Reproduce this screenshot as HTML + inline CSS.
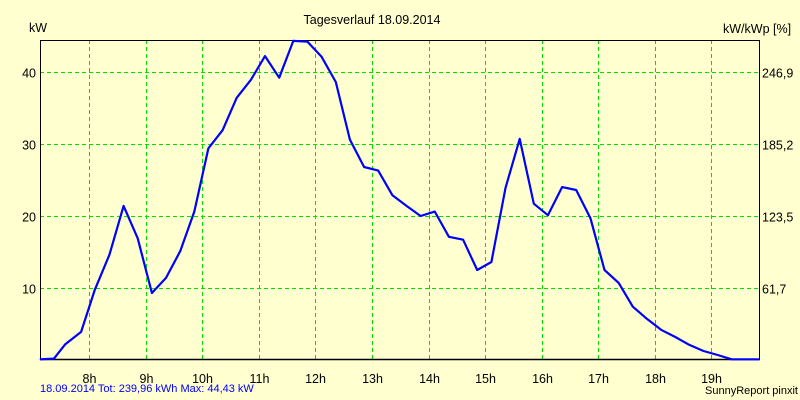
<!DOCTYPE html>
<html><head><meta charset="utf-8"><style>
body{margin:0;background:#ffffd0;}
svg{display:block;font-family:"Liberation Sans",Arial,sans-serif;}
</style></head><body>
<svg id="chart" width="800" height="400" viewBox="0 0 800 400">
<rect x="0" y="0" width="800" height="400" fill="#ffffd0"/>
<text x="372" y="24" font-size="12.5" text-anchor="middle" fill="#000">Tagesverlauf 18.09.2014</text>
<text x="29" y="32" font-size="12.5" fill="#000">kW</text>
<text x="723" y="33" font-size="12.5" fill="#000">kW/kWp [%]</text>
<g id="grid"></g>
<g id="axes"></g>
<g id="series"></g>
<text x="40" y="392" font-size="11" fill="#0000ff">18.09.2014 Tot: 239,96 kWh Max: 44,43 kW</text>
<text x="798" y="394" font-size="11" text-anchor="end" fill="#000">SunnyReport pinxit</text>
</svg>
<script>
const hourTicks=[8,9,10,11,12,13,14,15,16,17,18,19];
const leftTicks=[10,20,30,40];
const rightTickLabels=["61,7","123,5","185,2","246,9"];
const times=[7.13,7.38,7.58,7.86,8.1,8.36,8.61,8.86,9.11,9.36,9.61,9.86,10.11,10.36,10.61,10.86,11.11,11.36,11.61,11.86,12.11,12.36,12.61,12.86,13.11,13.36,13.61,13.86,14.11,14.36,14.61,14.86,15.11,15.36,15.61,15.86,16.11,16.36,16.61,16.86,17.11,17.36,17.61,17.86,18.11,18.36,18.61,18.86,19.11,19.36,19.61,19.84];
const power=[0.1,0.2,2.2,3.9,9.7,14.6,21.4,16.9,9.3,11.4,15.1,20.6,29.4,31.9,36.4,38.9,42.2,39.2,44.3,44.2,42.1,38.6,30.6,26.8,26.3,22.9,21.4,20.0,20.6,17.1,16.7,12.5,13.6,23.9,30.7,21.7,20.1,24.0,23.6,19.7,12.5,10.7,7.4,5.7,4.2,3.2,2.1,1.25,0.7,0.1,0.1,0.1];
const L=40,R=759,T=40,B=360;
const tMin=7.133,tMax=19.84,yMax=44.43;
function xs(t){return L+(t-tMin)/(tMax-tMin)*(R-L);}
function ys(v){return B-v/yMax*(B-T);}
const NS="http://www.w3.org/2000/svg";
function mk(tag,attrs,parent){const e=document.createElementNS(NS,tag);for(const k in attrs)e.setAttribute(k,attrs[k]);parent.appendChild(e);return e;}
const grid=document.getElementById('grid'),axes=document.getElementById('axes'),series=document.getElementById('series');
hourTicks.forEach(h=>{
 const x=Math.round(xs(h))+0.5;
 const g=mk('line',{x1:x,x2:x,y1:T,y2:B,stroke:'#00e000','stroke-width':1,'stroke-dasharray':'4,3'},grid);
 
 
 const t=mk('text',{x:x,y:383,'font-size':12.5,'text-anchor':'middle',fill:'#000'},axes);
 t.textContent=h+'h';
 
 
});
leftTicks.forEach((v,i)=>{
 const y=Math.round(ys(v))+0.5;
 const g=mk('line',{x1:L,x2:R,y1:y,y2:y,stroke:'#00e000','stroke-width':1,'stroke-dasharray':'4,3'},grid);
 
 
 const t=mk('text',{x:36,y:y+5,'font-size':12.5,'text-anchor':'end',fill:'#000'},axes);
 t.textContent=v;
 
 
 const r=mk('text',{x:762,y:y+5,'font-size':12.5,fill:'#000'},axes);
 r.textContent=rightTickLabels[i];
 
 
});
const frame=mk('rect',{x:L+0.5,y:T+0.5,width:R-L,height:B-T-1,fill:'none',stroke:'#000','stroke-width':1},axes);


const bl=mk('line',{x1:L,x2:R+1,y1:B-0.5,y2:B-0.5,stroke:'#000','stroke-width':1.5},axes);


const pts=times.map((t,i)=>xs(t).toFixed(1)+','+ys(power[i]).toFixed(1)).join(' ');
const line=mk('polyline',{points:pts,fill:'none',stroke:'#0000ff','stroke-width':2.2,'stroke-linejoin':'round'},series);


</script>
</body></html>
